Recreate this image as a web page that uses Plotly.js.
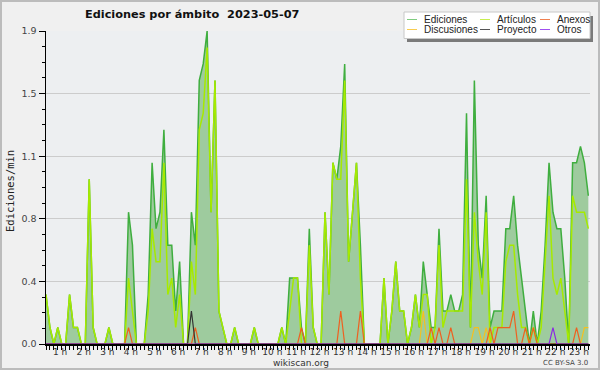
<!DOCTYPE html>
<html><head><meta charset="utf-8">
<script src="https://cdn.plot.ly/plotly-3.0.1.min.js"></script>
<style>
html,body{margin:0;padding:0;background:#f0f0f0;}
#wrap{position:relative;width:600px;height:370px;}
#chart{width:600px;height:370px;}
#frame{position:absolute;left:0;top:0;width:600px;height:370px;box-sizing:border-box;border:2px solid #bcbcbc;pointer-events:none;}
</style></head><body>
<div id="wrap"><div id="chart"></div><div id="frame"></div></div>
<script>
// ---- data (edits per minute, 10-minute slots) ----
const firstSlotHour = 0.4;
const hourTicks = [1,2,3,4,5,6,7,8,9,10,11,12,13,14,15,16,17,18,19,20,21,22,23];
const hourLabels = ["1 h","2 h","3 h","4 h","5 h","6 h","7 h","8 h","9 h","10 h","11 h","12 h","13 h","14 h","15 h","16 h","17 h","18 h","19 h","20 h","21 h","22 h","23 h"];
const yTickVals = [0, 0.38, 0.76, 1.14, 1.52, 1.9];
const yTickText = ["0.0","0.4","0.8","1.1","1.5","1.9"];

const ediciones = [
0.3,0.1,0,0.1,0,0,0.3,0.1,0.1,0,
0,1.0,0.1,0,0,0,0.1,0,0,0,
0,0.8,0.6,0,0,0,0.3,1.1,0.7,0.8,
1.3,0.6,0.6,0.2,0.5,0,0,0.8,0.6,1.6,
1.7,1.9,0.8,1.6,0.2,0.1,0,0,0.1,0,
0,0,0,0.1,0,0,0,0,0,0,
0.1,0,0.4,0.4,0.4,0.1,0,0.7,0.1,0,
0,0.8,0.3,1.1,1.0,1.2,1.7,0.5,0.8,1.1,
0.6,0,0,0,0,0,0.4,0,0.2,0.5,
0.2,0.2,0,0.1,0.3,0.1,0.5,0.3,0.1,0.1,
0.7,0.2,0.2,0.3,0.2,0.2,0.3,1.4,0.1,1.6,
0.6,0.4,0.9,0.1,0.2,0.2,0.2,0.7,0.7,0.9,
0.6,0.4,0.2,0,0.2,0,0.2,0.6,1.1,0.8,
0.7,0.7,0.4,0,1.1,1.1,1.2,1.1,0.9];
const articulos = [
0.3,0.1,0,0.1,0,0,0.3,0.1,0.1,0,
0,1.0,0.1,0,0,0,0.1,0,0,0,
0,0.4,0.2,0,0,0,0.2,0.7,0.5,0.5,
1.1,0.3,0.4,0.1,0.3,0,0,0.5,0.3,1.3,
1.4,1.8,0.8,1.6,0.2,0.1,0,0,0.1,0,
0,0,0,0.1,0,0,0,0,0,0,
0.1,0,0.2,0.4,0.4,0,0,0.6,0.1,0,
0,0.8,0.3,1.1,1.0,1.0,1.6,0.5,0.8,1.1,
0.4,0,0,0,0,0,0.4,0,0.2,0.5,
0.2,0.2,0,0.1,0.3,0.1,0.3,0.3,0,0.1,
0.6,0.1,0.2,0.2,0.2,0.2,0.2,1.0,0.1,0.8,
0.5,0.3,0.8,0,0.1,0.1,0.1,0.5,0.6,0.6,
0.3,0.1,0.1,0,0.1,0,0.1,0.5,0.9,0.4,
0.3,0.4,0.2,0,0.9,0.8,0.8,0.8,0.7];
const anexos = [
0,0,0,0,0,0,0,0,0,0,
0,0,0,0,0,0,0,0,0,0,
0,0.1,0,0,0,0,0,0,0,0,
0,0,0,0,0,0,0,0,0.1,0,
0,0,0,0,0,0,0,0,0,0,
0,0,0,0,0,0,0,0,0,0,
0,0,0,0,0,0.1,0,0,0,0,
0,0,0,0,0,0.2,0,0,0,0,
0.2,0,0,0,0,0,0,0,0,0,
0,0,0,0,0,0,0,0,0.1,0,
0.1,0,0,0.1,0,0,0,0,0,0,
0,0,0,0.1,0,0.1,0.1,0.1,0.1,0.2,
0,0,0.1,0,0.1,0,0,0,0,0,
0,0,0,0,0,0.1,0,0,0];
const discusiones = [
0,0,0,0,0,0,0,0,0,0,
0,0,0,0,0,0,0,0,0,0,
0,0,0,0,0,0,0,0,0,0,
0,0,0,0,0,0,0,0,0,0,
0,0,0,0,0,0,0,0,0,0,
0,0,0,0,0,0,0,0,0,0,
0,0,0,0,0,0,0,0,0,0,
0,0,0,0,0,0,0,0,0,0,
0,0,0,0,0,0,0,0,0,0,
0,0,0,0,0,0,0.2,0,0,0,
0,0,0,0,0,0,0,0,0,0.1,
0.1,0,0.1,0,0,0,0,0,0,0,
0,0,0,0,0,0,0,0,0,0,
0,0,0,0,0,0,0,0.1,0.1];
const proyecto = [
0,0,0,0,0,0,0,0,0,0,
0,0,0,0,0,0,0,0,0,0,
0,0,0,0,0,0,0,0,0,0,
0,0,0,0,0,0,0,0.2,0,0,
0,0,0,0,0,0,0,0,0,0,
0,0,0,0,0,0,0,0,0,0,
0,0,0,0,0,0,0,0,0,0,
0,0,0,0,0,0,0,0,0,0,
0,0,0,0,0,0,0,0,0,0,
0,0,0,0,0,0,0,0,0,0,
0,0,0,0,0,0,0,0,0,0,
0,0,0,0,0,0,0,0,0,0,
0,0,0,0,0,0,0,0,0,0,
0,0,0,0,0,0,0,0,0];
const otros = [
0,0,0,0,0,0,0,0,0,0,
0,0,0,0,0,0,0,0,0,0,
0,0,0,0,0,0,0,0,0,0,
0,0,0,0,0,0,0,0,0,0,
0,0,0,0,0,0,0,0,0,0,
0,0,0,0,0,0,0,0,0,0,
0,0,0,0,0,0,0,0,0,0,
0,0,0,0,0,0,0,0,0,0,
0,0,0,0,0,0,0,0,0,0,
0,0,0,0,0,0,0,0,0,0,
0,0,0,0,0,0,0,0,0,0,
0,0,0,0,0,0,0,0,0,0,
0,0,0,0,0,0,0,0,0,0.1,
0,0,0,0,0,0,0,0,0];

const seriesNames = ["Ediciones","Artículos","Anexos","Discusiones","Proyecto","Otros"];
const seriesData = [ediciones, articulos, anexos, discusiones, proyecto, otros];
const lineColors = ["#3fae3f","#a6ea00","#ee6020","#f4c020","#333333","#8a2be2"];
const legendColors = ["#80cc80","#c8ee50","#f08050","#f8cc50","#555555","#a050f0"];

const slotHours = ediciones.map((_, i) => firstSlotHour + i / 6);

// ---- geometry helpers (pixel -> paper) ----
const L = 46, R = 10, T = 31, B = 26, W = 600, H = 370;
const pw = W - L - R, ph = H - T - B;
const px = x => (x - L) / pw;
const py = y => (H - B - y) / ph;

const drawOrder = [0, 1, 3, 2, 4, 5];
const traces = drawOrder.map(k => ({
  type: 'scatter', mode: 'lines', x: slotHours, y: seriesData[k], name: seriesNames[k],
  showlegend: false, hoverinfo: 'skip',
  line: {color: lineColors[k], width: k < 2 ? 1.5 : 1.2},
  fill: k === 0 ? 'tozeroy' : 'none',
  fillcolor: '#9ecb9e'
}));

// ---- manual legend ----
const shapes = [
  {type:'rect', xref:'paper', yref:'paper', x0:px(407), x1:px(593), y0:py(42), y1:py(16), fillcolor:'#7a7a7a', line:{width:0}, layer:'above'},
  {type:'rect', xref:'paper', yref:'paper', x0:px(404), x1:px(590), y0:py(38.5), y1:py(12), fillcolor:'#ffffff', line:{color:'#c8c8c8', width:1}, layer:'above'}
];
const annotations = [];
const colX = [407, 480, 540];
const rowY = [19.5, 29.5];
for (let k = 0; k < seriesNames.length; k++) {
  const c = k % 3, r = Math.floor(k / 3);
  shapes.push({type:'line', xref:'paper', yref:'paper', x0:px(colX[c]), x1:px(colX[c] + 10), y0:py(rowY[r]), y1:py(rowY[r]), line:{color:legendColors[k], width:1}, layer:'above'});
  annotations.push({xref:'paper', yref:'paper', x:px(colX[c] + 15), y:py(rowY[r]), xanchor:'left', yanchor:'middle', showarrow:false, text:seriesNames[k], font:{family:'Liberation Sans', size:10, color:'#222'}});
}
annotations.push({xref:'paper', yref:'paper', x:px(10), y:py(191), textangle:-90, showarrow:false, xanchor:'center', yanchor:'middle', text:'Ediciones/min', font:{family:'DejaVu Sans Mono', size:10.5, color:'#222'}});
annotations.push({xref:'paper', yref:'paper', x:px(301), y:py(363), showarrow:false, xanchor:'center', yanchor:'middle', text:'wikiscan.org', font:{family:'DejaVu Sans', size:9, color:'#333'}});
annotations.push({xref:'paper', yref:'paper', x:px(590), y:py(363), showarrow:false, xanchor:'right', yanchor:'middle', text:'CC BY-SA 3.0', font:{family:'DejaVu Sans', size:7, color:'#444'}});

const layout = {
  width: W, height: H,
  margin: {l: L, r: R, t: T, b: B, pad: 0},
  paper_bgcolor: '#f0f0f0', plot_bgcolor: '#edeff1',
  title: {text: 'Ediciones por ámbito  2023-05-07', xref:'container', yref:'container', x: 85/W, xanchor:'left', y: 1 - 14/H, yanchor:'middle',
          font: {family:'DejaVu Sans', size: 11.3, weight: 'bold', color:'#111'}},
  showlegend: false,
  xaxis: {
    range: [firstSlotHour, firstSlotHour + pw / 23.58], tickmode: 'array', tickvals: hourTicks, ticktext: hourLabels,
    ticks: '', ticklabelstandoff: -2, showgrid: false, zeroline: false, showline: true, linecolor: '#000', linewidth: 2,
    tickfont: {family:'DejaVu Sans', size: 9, color:'#333'},
    minor: {tickmode:'linear', tick0: firstSlotHour, dtick: 1/6, ticks:'outside', ticklen: 4, tickcolor:'#000', tickwidth: 1, showgrid: false},
    fixedrange: true
  },
  yaxis: {
    range: [0, 1.9], tickmode: 'array', tickvals: yTickVals, ticktext: yTickText,
    ticks: 'outside', ticklen: 6, tickcolor: '#000', tickwidth: 1,
    showgrid: true, gridcolor: '#cccccc', gridwidth: 1, zeroline: false,
    showline: true, linecolor: '#000', linewidth: 1.5,
    tickfont: {family:'DejaVu Sans', size: 9.5, color:'#444'},
    minor: {tickmode:'linear', tick0: 0, dtick: 0.095, ticks:'outside', ticklen: 3, tickcolor:'#000', tickwidth: 1, showgrid: false},
    fixedrange: true
  },
  shapes: shapes,
  annotations: annotations
};

Plotly.newPlot('chart', traces, layout, {displayModeBar: false, staticPlot: true});
</script>
</body></html>
